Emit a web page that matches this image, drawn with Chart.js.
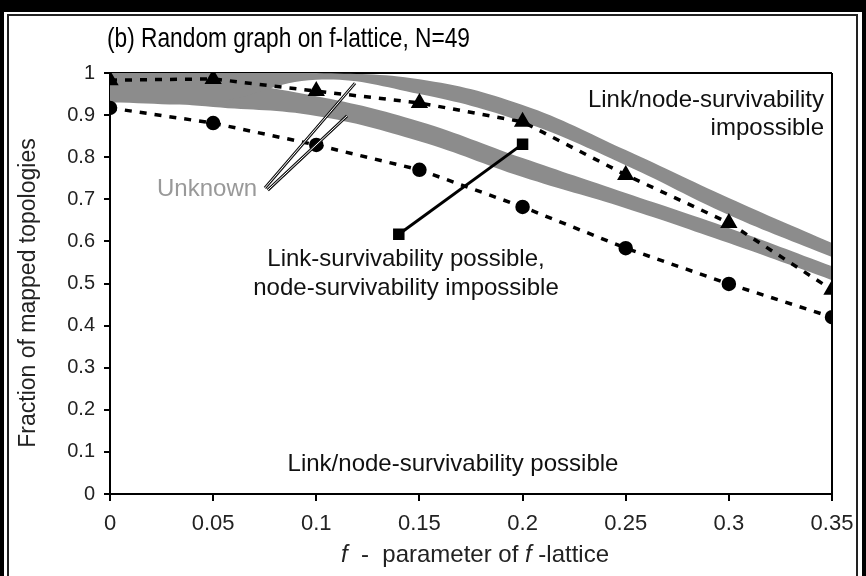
<!DOCTYPE html>
<html><head><meta charset="utf-8">
<script src="https://cdn.jsdelivr.net/npm/chart.js@4/dist/chart.umd.min.js"></script>
<style>html,body{margin:0;padding:0;background:#fff;}canvas{display:block;}</style>
</head><body><canvas id="c" width="866" height="576"></canvas>
<script>
const fValues = [0, 0.05, 0.1, 0.15, 0.2, 0.25, 0.3, 0.35];
const triangleSeries = [0.983, 0.986, 0.957, 0.929, 0.884, 0.758, 0.644, 0.485];
const circleSeries = [0.917, 0.881, 0.829, 0.770, 0.682, 0.584, 0.499, 0.420];
const upperBandTop = [1.0, 1.0, 1.0, 0.985, 0.924, 0.817, 0.703, 0.596];
const upperBandBottom = [0.93, 0.93, 0.984, 0.95, 0.884, 0.781, 0.663, 0.563];
const lowerBandTop = [0.975, 0.978, 0.945, 0.885, 0.798, 0.715, 0.632, 0.541];
const lowerBandBottom = [0.941, 0.919, 0.898, 0.838, 0.753, 0.679, 0.596, 0.508];
const arrowX = [0.14, 0.2];
const arrowY = [0.617, 0.831];
const xTickLabels = ['0', '0.05', '0.1', '0.15', '0.2', '0.25', '0.3', '0.35'];
const yTickLabels = ['0', '0.1', '0.2', '0.3', '0.4', '0.5', '0.6', '0.7', '0.8', '0.9', '1'];
const titleText = '(b) Random graph on f-lattice, N=49';
const yTitle = 'Fraction of mapped topologies';
const unknownText = 'Unknown';
const regionTopRight = ['Link/node-survivability', 'impossible'];
const regionMiddle = ['Link-survivability possible,', 'node-survivability impossible'];
const regionBottom = 'Link/node-survivability possible';

const FONT = "'Liberation Sans', Arial, Helvetica, sans-serif";
const GRAY = '#8c8c8c';
const pts = arr => fValues.map((x, i) => ({x, y: arr[i]}));

const deco = {
  id: 'deco',
  beforeDraw(chart) {
    const ctx = chart.ctx;
    ctx.save();
    ctx.fillStyle = '#fff';
    ctx.fillRect(0, 0, chart.width, chart.height);
    ctx.fillStyle = '#000';
    ctx.fillRect(0, 0, chart.width, 12);
    ctx.fillRect(0, 0, 4, chart.height);
    ctx.fillRect(chart.width - 4, 0, 4, chart.height);
    ctx.strokeStyle = '#222';
    ctx.lineWidth = 2;
    ctx.strokeRect(8, 15, 849, 570);
    ctx.restore();
  },
  beforeDatasetsDraw(chart) {
    const {ctx, chartArea: a} = chart;
    ctx.save();
    ctx.strokeStyle = '#000';
    ctx.lineWidth = 2;
    ctx.beginPath();
    ctx.moveTo(a.left, a.top); ctx.lineTo(a.right, a.top);
    ctx.stroke();
    ctx.restore();
  },
  afterDatasetsDraw(chart) {
    const {ctx, chartArea: a, scales: {x, y}} = chart;
    ctx.save();
    ctx.strokeStyle = '#000';
    ctx.lineWidth = 2;
    ctx.beginPath();
    ctx.moveTo(a.right, a.top); ctx.lineTo(a.right, a.bottom);
    ctx.stroke();
    const leaders = [[0.0751, 0.727, 0.1188, 0.976], [0.0765, 0.722, 0.1149, 0.898]];
    leaders.forEach(([x1, y1, x2, y2]) => {
      const p1 = [x.getPixelForValue(x1), y.getPixelForValue(y1)];
      const p2 = [x.getPixelForValue(x2), y.getPixelForValue(y2)];
      ctx.strokeStyle = '#111'; ctx.lineWidth = 3;
      ctx.beginPath(); ctx.moveTo(...p1); ctx.lineTo(...p2); ctx.stroke();
      ctx.strokeStyle = '#fff'; ctx.lineWidth = 1;
      ctx.beginPath(); ctx.moveTo(...p1); ctx.lineTo(...p2); ctx.stroke();
    });
    ctx.restore();
  },
  afterDraw(chart) {
    const {ctx} = chart;
    ctx.save();
    ctx.textBaseline = 'middle';
    ctx.fillStyle = '#000';
    ctx.font = `28px ${FONT}`;
    ctx.textAlign = 'left';
    const tw = ctx.measureText(titleText).width;
    ctx.save();
    ctx.translate(107, 39);
    ctx.scale(363 / tw, 1);
    ctx.fillText(titleText, 0, 0);
    ctx.restore();
    ctx.fillStyle = '#111';
    ctx.font = `24px ${FONT}`;
    ctx.textAlign = 'right';
    ctx.fillText(regionTopRight[0], 824, 100);
    ctx.fillText(regionTopRight[1], 824, 128);
    ctx.textAlign = 'center';
    ctx.fillText(regionMiddle[0], 406, 259);
    ctx.fillText(regionMiddle[1], 406, 288);
    ctx.fillText(regionBottom, 453, 464);
    ctx.fillStyle = '#999';
    ctx.font = `24px ${FONT}`;
    ctx.textAlign = 'left';
    ctx.fillText(unknownText, 157, 189);
    ctx.fillStyle = '#222';
    ctx.font = `23px ${FONT}`;
    ctx.save();
    ctx.translate(29, 293);
    ctx.rotate(-Math.PI / 2);
    ctx.textAlign = 'center';
    ctx.fillText(yTitle, 0, 0);
    ctx.restore();
    const parts = [['f', true], ['  -  parameter of ', false], ['f', true], [' -lattice', false]];
    const fontFor = it => (it ? 'italic ' : '') + `24px ${FONT}`;
    let total = 0;
    parts.forEach(([t, it]) => { ctx.font = fontFor(it); total += ctx.measureText(t).width; });
    let cx = 475 - total / 2;
    ctx.textAlign = 'left';
    parts.forEach(([t, it]) => { ctx.font = fontFor(it); ctx.fillText(t, cx, 555); cx += ctx.measureText(t).width; });
    ctx.restore();
  }
};

const bandDs = (label, arr, fill) => ({
  label, data: pts(arr), borderWidth: 0, borderColor: GRAY, backgroundColor: GRAY,
  pointRadius: 0, tension: 0.4, fill, order: 10
});

new Chart(document.getElementById('c'), {
  type: 'line',
  data: {
    datasets: [
      {label: 'triangles', data: pts(triangleSeries), borderColor: '#000', backgroundColor: '#000',
       borderWidth: 3.5, borderDash: [7, 8], pointStyle: 'triangle', pointRadius: 6.5,
       tension: 0, fill: false, order: 1},
      {label: 'circles', data: pts(circleSeries), borderColor: '#000', backgroundColor: '#000',
       borderWidth: 3.5, borderDash: [7, 8], pointStyle: 'circle', pointRadius: 5.5,
       tension: 0, fill: false, order: 1},
      {label: 'arrow', data: arrowX.map((x, i) => ({x, y: arrowY[i]})), borderColor: '#000', backgroundColor: '#000',
       borderWidth: 3, pointStyle: 'rect', pointRadius: 6, tension: 0, fill: false, order: 0},
      bandDs('upperTop', upperBandTop, false),
      bandDs('upperBottom', upperBandBottom, '-1'),
      bandDs('lowerTop', lowerBandTop, false),
      bandDs('lowerBottom', lowerBandBottom, '-1')
    ]
  },
  options: {
    responsive: false, animation: false, devicePixelRatio: 1,
    layout: {padding: {left: 0, top: 73, right: 34, bottom: 0}},
    plugins: {legend: {display: false}, tooltip: {enabled: false}, title: {display: false}},
    scales: {
      x: {type: 'linear', min: 0, max: 0.35,
          ticks: {stepSize: 0.05, callback: (v, i) => xTickLabels[i], font: {size: 22, family: FONT},
                  color: '#222', padding: 10, maxRotation: 0, autoSkip: false},
          grid: {drawOnChartArea: false, drawTicks: true, tickLength: 7, color: '#000', lineWidth: 2},
          border: {display: true, color: '#000', width: 2},
          afterFit: s => { s.height = 82; }},
      y: {type: 'linear', min: 0, max: 1,
          ticks: {stepSize: 0.1, callback: (v, i) => yTickLabels[i], font: {size: 20, family: FONT},
                  color: '#222', padding: 9, autoSkip: false},
          grid: {drawOnChartArea: false, drawTicks: true, tickLength: 6, color: '#000', lineWidth: 2},
          border: {display: true, color: '#000', width: 2},
          afterFit: s => { s.width = 110; }}
    }
  },
  plugins: [deco]
});
</script></body></html>
